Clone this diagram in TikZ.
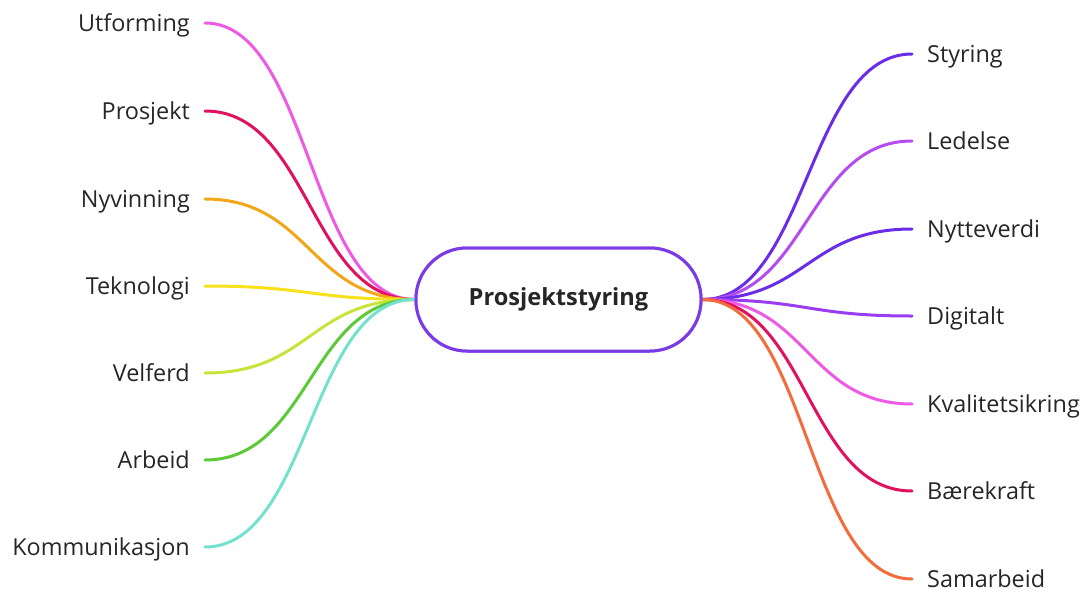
\documentclass[tikz,border=0pt]{standalone}
\usepackage{fontspec}
\setmainfont{Open Sans}
\definecolor{txt}{HTML}{262626}
\definecolor{hub}{HTML}{7A3BE6}
\definecolor{cPink}{HTML}{EF5AE4}
\definecolor{cCrimson}{HTML}{E0125F}
\definecolor{cOrange}{HTML}{F2A618}
\definecolor{cYellow}{HTML}{F7E11A}
\definecolor{cLime}{HTML}{C8E43C}
\definecolor{cGreen}{HTML}{5CC936}
\definecolor{cTeal}{HTML}{74E0CE}
\definecolor{cIndigo}{HTML}{6A2CE8}
\definecolor{cViolet}{HTML}{B44CF0}
\definecolor{cPurple}{HTML}{9A3DF0}
\definecolor{cCoral}{HTML}{F26C3C}
\tikzset{
  branch/.style={line width=3pt, line cap=round},
  leftlabel/.style={anchor=base east, inner sep=0pt, font=\fontsize{23.4}{28}\selectfont, text=txt},
  rightlabel/.style={anchor=base west, inner sep=0pt, font=\fontsize{23.4}{28}\selectfont, text=txt},
  hubbox/.style={draw=hub, line width=3pt, fill=white, rounded corners=51pt,
    minimum width=285pt, minimum height=103pt, inner sep=0pt,
    font=\bfseries\fontsize{23.6}{28}\selectfont, text=txt}
}
\begin{document}
\begin{tikzpicture}[x=1pt, y=-1pt]
\useasboundingbox (0,0) rectangle (1085,592);

% branch end points, left side
\coordinate (eUtf) at (205,23);
\coordinate (ePro) at (205,111);
\coordinate (eNyv) at (205,199);
\coordinate (eTek) at (205,286);
\coordinate (eVel) at (205,373);
\coordinate (eArb) at (205,460);
\coordinate (eKom) at (205,547);
% branch end points, right side
\coordinate (eSty) at (912,54);
\coordinate (eLed) at (912,141);
\coordinate (eNyt) at (912,229);
\coordinate (eDig) at (912,316);
\coordinate (eKva) at (912,404);
\coordinate (eBae) at (912,491);
\coordinate (eSam) at (912,579);

% central topic (placed first so branches can attach to it)
\node[hubbox] (hub) at (558.5,299.5) {Prosjektstyring};

% branches
\foreach \e/\c in {eUtf/cPink, ePro/cCrimson, eNyv/cOrange, eTek/cYellow,
                   eVel/cLime, eArb/cGreen, eKom/cTeal}
  \draw[branch, draw=\c] (hub.west) .. controls +(-105,0) and +(105,0) .. (\e);
\foreach \e/\c in {eSty/cIndigo, eLed/cViolet, eNyt/cIndigo, eDig/cPurple,
                   eKva/cPink, eBae/cCrimson, eSam/cCoral}
  \draw[branch, draw=\c] (hub.east) .. controls +(105,0) and +(-105,0) .. (\e);

% redraw the central topic on top of the branches
\node[hubbox] at (hub.center) {Prosjektstyring};

% labels
\node[leftlabel]  (lUtf) at ([xshift=-15pt,yshift=-8.5pt]eUtf) {Utforming};
\node[leftlabel]  (lPro) at ([xshift=-15pt,yshift=-8.5pt]ePro) {Prosjekt};
\node[leftlabel]  (lNyv) at ([xshift=-15pt,yshift=-8.5pt]eNyv) {Nyvinning};
\node[leftlabel]  (lTek) at ([xshift=-15pt,yshift=-8.5pt]eTek) {Teknologi};
\node[leftlabel]  (lVel) at ([xshift=-15pt,yshift=-8.5pt]eVel) {Velferd};
\node[leftlabel]  (lArb) at ([xshift=-15pt,yshift=-8.5pt]eArb) {Arbeid};
\node[leftlabel]  (lKom) at ([xshift=-15pt,yshift=-8.5pt]eKom) {Kommunikasjon};
\node[rightlabel] (lSty) at ([xshift=15pt,yshift=-8.5pt]eSty) {Styring};
\node[rightlabel] (lLed) at ([xshift=15pt,yshift=-8.5pt]eLed) {Ledelse};
\node[rightlabel] (lNyt) at ([xshift=15pt,yshift=-8.5pt]eNyt) {Nytteverdi};
\node[rightlabel] (lDig) at ([xshift=15pt,yshift=-8.5pt]eDig) {Digitalt};
\node[rightlabel] (lKva) at ([xshift=15pt,yshift=-8.5pt]eKva) {Kvalitetsikring};
\node[rightlabel] (lBae) at ([xshift=15pt,yshift=-8.5pt]eBae) {Bærekraft};
\node[rightlabel] (lSam) at ([xshift=15pt,yshift=-8.5pt]eSam) {Samarbeid};
\end{tikzpicture}
\end{document}
